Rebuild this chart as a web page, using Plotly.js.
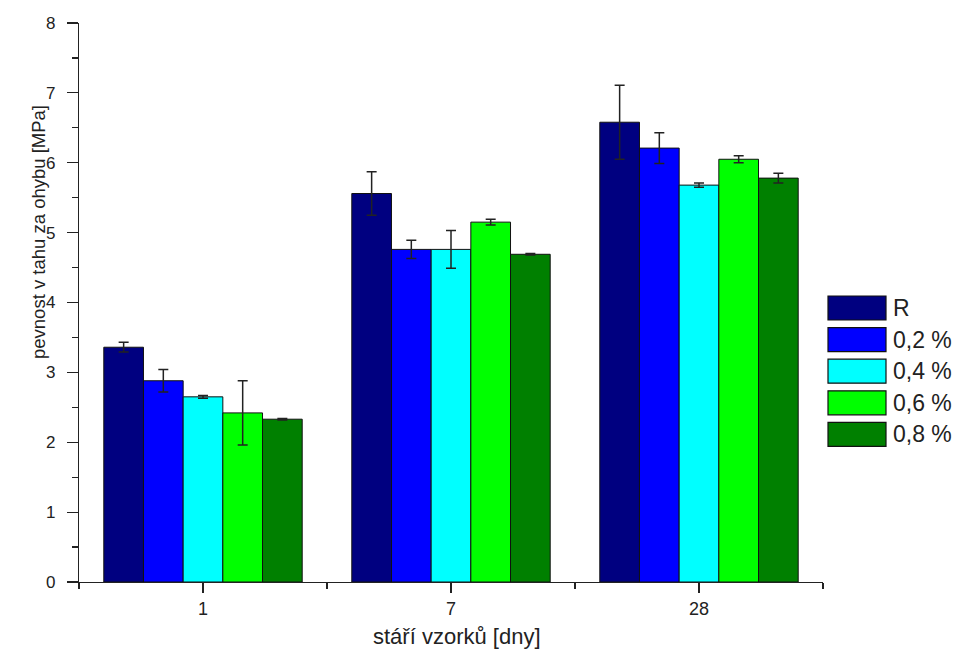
<!DOCTYPE html>
<html>
<head>
<meta charset="utf-8">
<script src="https://cdn.plot.ly/plotly-3.0.1.min.js"></script>
<style>html,body{margin:0;padding:0;background:#fff;}#chart{width:963px;height:652px;}</style>
</head>
<body>
<div id="chart"></div>
<script>
// ---- data ----
const categories = ['1', '7', '28'];
const seriesNames = ['R', '0,2 %', '0,4 %', '0,6 %', '0,8 %'];
const seriesColors = ['#000080', '#0000ff', '#00ffff', '#00ff00', '#008000'];
const valR   = [3.36, 5.56, 6.58];
const val02  = [2.88, 4.76, 6.21];
const val04  = [2.65, 4.76, 5.68];
const val06  = [2.42, 5.15, 6.05];
const val08  = [2.33, 4.69, 5.78];
const errR   = [0.07, 0.31, 0.53];
const err02  = [0.16, 0.13, 0.22];
const err04  = [0.02, 0.27, 0.03];
const err06  = [0.46, 0.04, 0.05];
const err08  = [0.01, 0.01, 0.07];

const values = [valR, val02, val04, val06, val08];
const errors = [errR, err02, err04, err06, err08];
const xpos = categories.map((c, i) => i);

const traces = seriesNames.map((name, s) => ({
  type: 'bar',
  name: name,
  x: xpos,
  y: values[s],
  marker: {color: seriesColors[s], line: {color: '#111', width: 1}},
  error_y: {type: 'data', array: errors[s], visible: true, color: '#222', thickness: 1.5, width: 5},
  showlegend: false,
  hoverinfo: 'y'
}));

// plot area in pixels
const L = 79, R = 823, T = 23, B = 582, W = 963, H = 652;
const px = x => (x - L) / (R - L);
const py = y => (B - y) / (B - T);
const FONT = 'Liberation Sans, Arial, sans-serif';

const shapes = [];
const annotations = [];
seriesNames.forEach((name, i) => {
  const top = 296 + 31.6 * i;
  shapes.push({type: 'rect', xref: 'paper', yref: 'paper',
    x0: px(828), x1: px(886), y0: py(top + 24), y1: py(top),
    fillcolor: seriesColors[i], line: {color: '#111', width: 1.2}});
  annotations.push({xref: 'paper', yref: 'paper', x: px(891), y: py(top + 12),
    xanchor: 'left', yanchor: 'middle', text: name, showarrow: false,
    font: {family: FONT, size: 23, color: '#222'}});
});
annotations.push({xref: 'paper', yref: 'paper', x: px(38), y: py(232),
  xanchor: 'center', yanchor: 'middle', textangle: -90, showarrow: false,
  text: 'pevnost v tahu za ohybu [MPa]',
  font: {family: FONT, size: 18.5, color: '#222'}});
annotations.push({xref: 'paper', yref: 'paper', x: px(457), y: py(636),
  xanchor: 'center', yanchor: 'middle', showarrow: false,
  text: 'stáří vzorků [dny]',
  font: {family: FONT, size: 22, color: '#222'}});

const layout = {
  width: W, height: H,
  margin: {l: L, r: W - R, t: T, b: H - B, pad: 0},
  paper_bgcolor: '#fff', plot_bgcolor: '#fff',
  barmode: 'group', bargap: 0.2, bargroupgap: 0,
  showlegend: false,
  font: {family: FONT, color: '#222'},
  xaxis: {
    type: 'linear', range: [-0.5, 2.5],
    tickmode: 'array', tickvals: xpos, ticktext: categories,
    ticks: 'outside', ticklen: 10, tickwidth: 1.2, tickcolor: '#222',
    minor: {tickmode: 'linear', tick0: 0.5, dtick: 1, ticks: 'outside', ticklen: 6, tickwidth: 1.2, tickcolor: '#222'},
    showline: true, linecolor: '#222', linewidth: 1.2,
    showgrid: false, zeroline: false,
    tickfont: {size: 18, color: '#222'}
  },
  yaxis: {
    range: [0, 8], dtick: 1, tick0: 0,
    ticks: 'outside', ticklen: 11, tickwidth: 1.2, tickcolor: '#222',
    ticklabelstandoff: 8,
    minor: {dtick: 0.5, ticks: 'outside', ticklen: 6, tickwidth: 1.2, tickcolor: '#222'},
    showline: true, linecolor: '#222', linewidth: 1.2,
    showgrid: false, zeroline: false,
    tickfont: {size: 17, color: '#222'}
  },
  shapes: shapes,
  annotations: annotations
};

Plotly.newPlot('chart', traces, layout, {displayModeBar: false, staticPlot: true});
</script>
</body>
</html>
